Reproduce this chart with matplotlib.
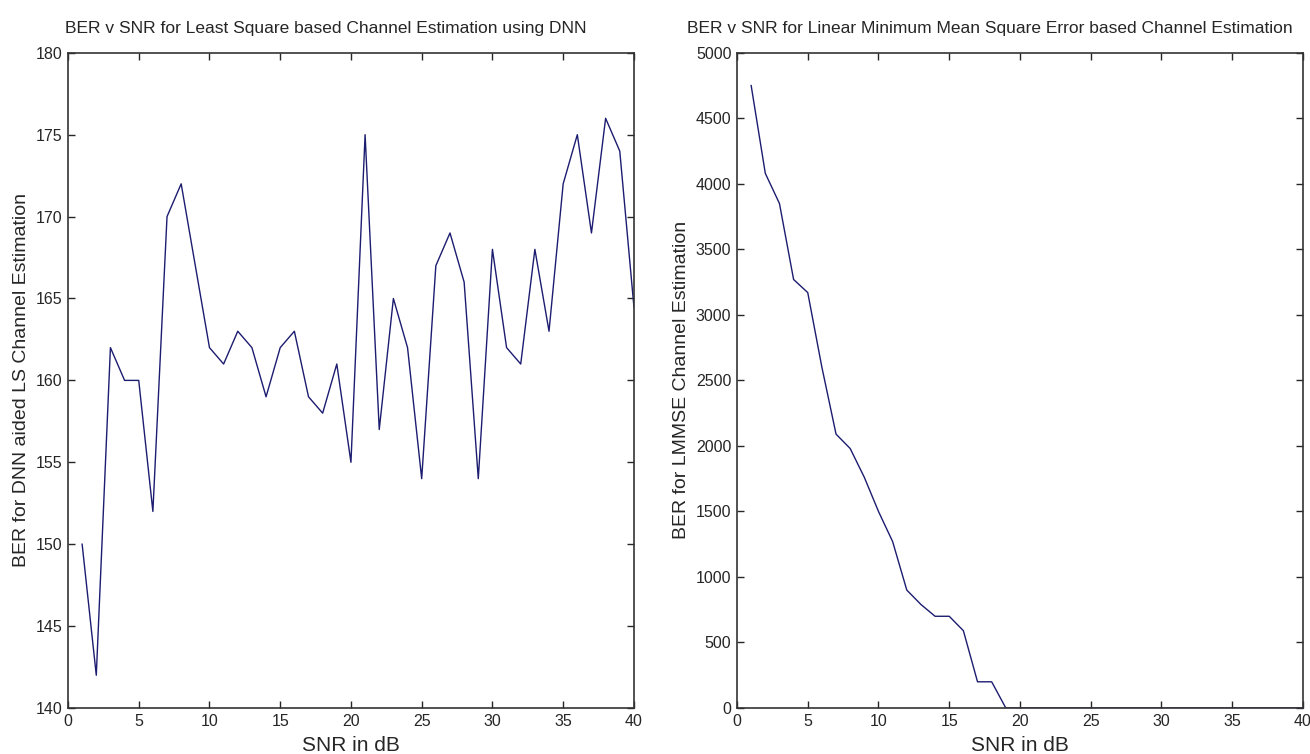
import numpy as np
import matplotlib.pyplot as plt

plt.rcParams['font.family'] = ['Liberation Sans', 'DejaVu Sans']

# dados
snr = np.arange(1, 41)
ber_ls_dnn = [150, 142, 162, 160, 160, 152, 170, 172, 167, 162,
              161, 163, 162, 159, 162, 163, 159, 158, 161, 155,
              175, 157, 165, 162, 154, 167, 169, 166, 154, 168,
              162, 161, 168, 163, 172, 175, 169, 176, 174, 164.5]
ber_lmmse = [4750, 4080, 3850, 3270, 3170, 2600, 2090, 1980, 1760, 1500,
             1270, 900, 790, 700, 700, 590, 200, 200, 0, 0,
             0, 0, 0, 0, 0, 0, 0, 0, 0, 0,
             0, 0, 0, 0, 0, 0, 0, 0, 0, 0]

titulos = ['BER v SNR for Least Square based Channel Estimation using DNN',
           'BER v SNR for Linear Minimum Mean Square Error based Channel Estimation']
ylabels = ['BER for DNN aided LS Channel Estimation',
           'BER for LMMSE Channel Estimation']

txt = '#262626'
cor_linha = '#1c1c70'

fig = plt.figure(figsize=(13.1, 7.54), dpi=100)
ax1 = fig.add_axes([0.0519, 0.061, 0.432, 0.869])
ax2 = fig.add_axes([0.5626, 0.061, 0.432, 0.869])

ax1.plot(snr, ber_ls_dnn, color=cor_linha, linewidth=1.0)
ax1.set_ylim(140, 180)
ax1.set_yticks(np.arange(140, 181, 5))

ax2.plot(snr, ber_lmmse, color=cor_linha, linewidth=1.0)
ax2.set_ylim(0, 5000)
ax2.set_yticks(np.arange(0, 5001, 500))

for ax, t, yl, tx in zip([ax1, ax2], titulos, ylabels, [0.456, 0.447]):
    ax.set_xlim(0, 40)
    ax.set_xticks(np.arange(0, 41, 5))
    ax.tick_params(direction='in', top=True, right=True, length=5, width=1,
                   labelsize=11.5, colors=txt, pad=4)
    for s in ax.spines.values():
        s.set_color('#333333')
        s.set_linewidth(1.2)
    ax.set_title(t, fontsize=12.5, color=txt, x=tx, pad=14)
    ax.set_xlabel('SNR in dB', fontsize=15, color=txt, labelpad=5)
    ax.set_ylabel(yl, fontsize=14, color=txt, labelpad=4)

fig.savefig('out.png', dpi=100)
